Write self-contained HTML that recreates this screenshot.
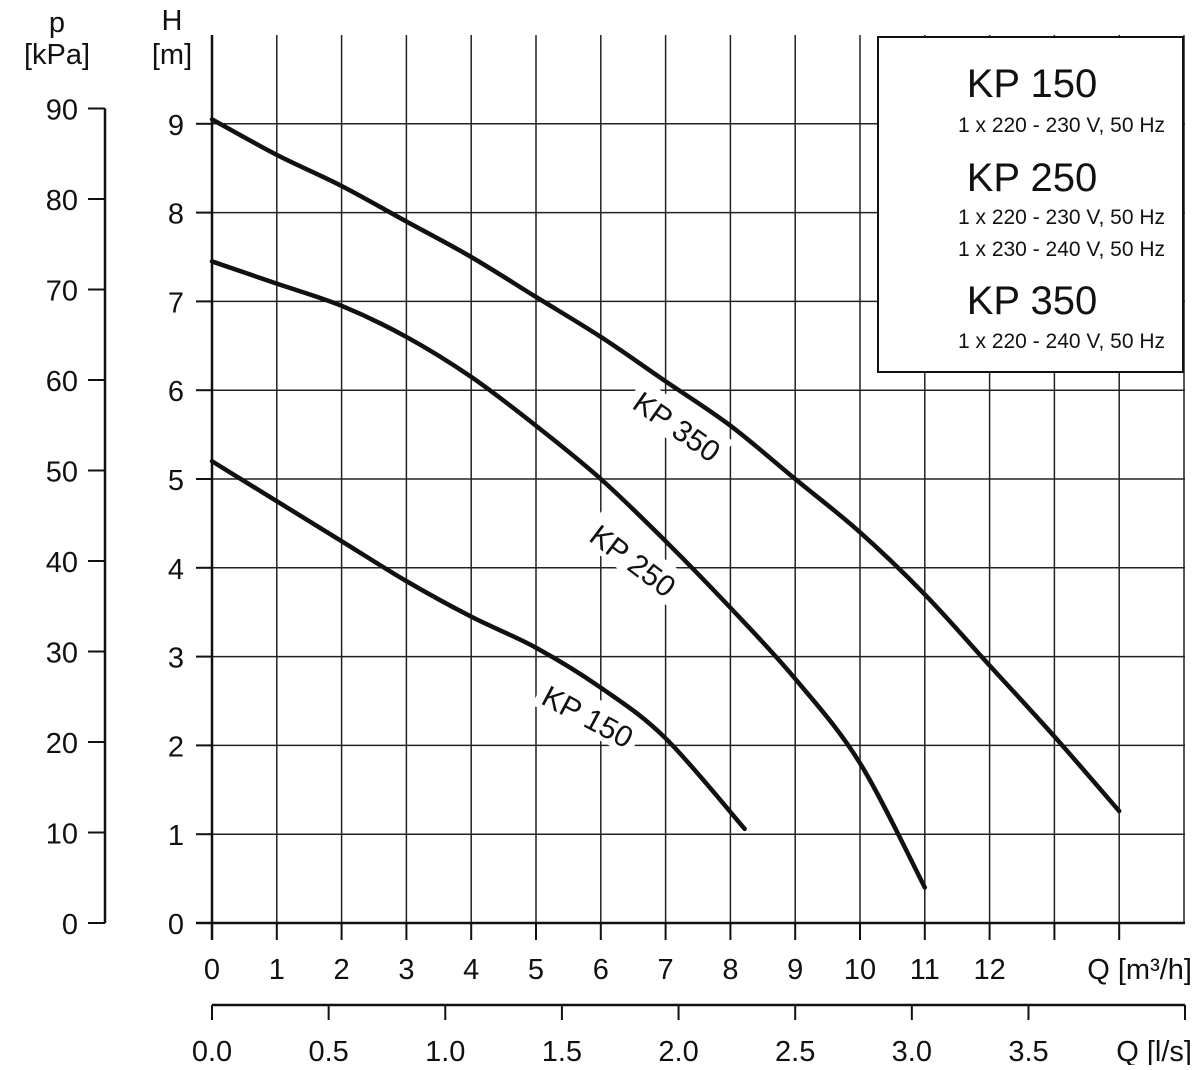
<!DOCTYPE html>
<html><head><meta charset="utf-8"><style>
body{margin:0;background:#fff;}
svg text{font-family:"Liberation Sans",sans-serif;fill:#111;}
</style></head><body>
<svg id="chart" width="1200" height="1065" xmlns="http://www.w3.org/2000/svg">
<g id="grid"></g><g id="axes"></g><g id="curves"></g><g id="labels"></g>
<g>
<rect x="878" y="37" width="305" height="335" fill="#fff" stroke="#111" stroke-width="2"/>
<text x="1032" y="97" font-size="40" text-anchor="middle">KP 150</text>
<text x="1165" y="132" font-size="21" text-anchor="end">1 x 220 - 230 V, 50 Hz</text>
<text x="1032" y="191" font-size="40" text-anchor="middle">KP 250</text>
<text x="1165" y="224" font-size="21" text-anchor="end">1 x 220 - 230 V, 50 Hz</text>
<text x="1165" y="256" font-size="21" text-anchor="end">1 x 230 - 240 V, 50 Hz</text>
<text x="1032" y="314" font-size="40" text-anchor="middle">KP 350</text>
<text x="1165" y="348" font-size="21" text-anchor="end">1 x 220 - 240 V, 50 Hz</text>
</g>
</svg>
<script>
const qTicks=[0,1,2,3,4,5,6,7,8,9,10,11,12];
const hTicks=[0,1,2,3,4,5,6,7,8,9];
const pTicks=[0,10,20,30,40,50,60,70,80,90];
const lsTicks=["0.0","0.5","1.0","1.5","2.0","2.5","3.0","3.5"];
const kp150Q=[0,1,2,3,4,5,6,7,8.22];
const kp150H=[5.2,4.75,4.3,3.85,3.45,3.1,2.65,2.08,1.06];
const kp250Q=[0,1,2,3,4,5,6,7,8,9,10,11];
const kp250H=[7.45,7.2,6.95,6.6,6.15,5.6,5.0,4.3,3.55,2.75,1.8,0.4];
const kp350Q=[0,1,2,3,4,5,6,7,8,9,10,11,12,13,14];
const kp350H=[9.05,8.65,8.3,7.9,7.5,7.05,6.6,6.1,5.6,5.0,4.4,3.7,2.9,2.1,1.26];

const X=q=>212+q*64.8, Y=h=>923-h*88.8, P=p=>923-p*9.05, LS=l=>212+l*3.6*64.8;
const NS="http://www.w3.org/2000/svg";
function mk(parent,tag,attrs,txt){const e=document.createElementNS(NS,tag);for(const k in attrs)e.setAttribute(k,attrs[k]);if(txt!==undefined)e.textContent=txt;document.getElementById(parent).appendChild(e);return e;}
for(let q=1;q<=15;q++){const l=mk('grid','line',{x1:X(q),x2:X(q),y1:35,y2:923,stroke:'#222','stroke-width':1.5});

}
for(let h=1;h<=9;h++){const l=mk('grid','line',{x1:212,x2:1185,y1:Y(h),y2:Y(h),stroke:'#222','stroke-width':1.5});

}
let a=mk('axes','path',{d:`M212,35 V940 M196,923 H1185`,stroke:'#111','stroke-width':2.5,fill:'none'});


qTicks.forEach(q=>{mk('axes','line',{x1:X(q),x2:X(q),y1:923,y2:940,stroke:'#111','stroke-width':2});
const t=mk('axes','text',{x:X(q),y:979,'font-size':29,'text-anchor':'middle'},q);

});
mk('axes','line',{x1:X(13),x2:X(13),y1:923,y2:940,stroke:'#111','stroke-width':2});
mk('axes','line',{x1:X(14),x2:X(14),y1:923,y2:940,stroke:'#111','stroke-width':2});
let qt=mk('axes','text',{x:1192,y:979,'font-size':29,'text-anchor':'end'},'Q [m³/h]');


hTicks.forEach(h=>{mk('axes','line',{x1:196,x2:212,y1:Y(h),y2:Y(h),stroke:'#111','stroke-width':2});
const t=mk('axes','text',{x:184,y:Y(h)+11,'font-size':29,'text-anchor':'end'},h);

});
mk('axes','text',{x:172,y:30,'font-size':29,'text-anchor':'middle'},'H');
mk('axes','text',{x:172,y:64,'font-size':29,'text-anchor':'middle'},'[m]');
mk('axes','line',{x1:105,x2:105,y1:P(90),y2:P(0),stroke:'#111','stroke-width':2.5});
pTicks.forEach(p=>{mk('axes','line',{x1:88,x2:105,y1:P(p),y2:P(p),stroke:'#111','stroke-width':2});
const t=mk('axes','text',{x:78,y:P(p)+11,'font-size':29,'text-anchor':'end'},p);

});
mk('axes','text',{x:57,y:32,'font-size':29,'text-anchor':'middle'},'p');
mk('axes','text',{x:57,y:64,'font-size':29,'text-anchor':'middle'},'[kPa]');
mk('axes','line',{x1:212,x2:1185,y1:1005,y2:1005,stroke:'#111','stroke-width':2.5});
lsTicks.forEach(s=>{const l=parseFloat(s);mk('axes','line',{x1:LS(l),x2:LS(l),y1:1005,y2:1020,stroke:'#111','stroke-width':2});
const t=mk('axes','text',{x:LS(l),y:1061,'font-size':29,'text-anchor':'middle'},s);

});
mk('axes','line',{x1:1185,x2:1185,y1:1005,y2:1020,stroke:'#111','stroke-width':2});
mk('axes','text',{x:1192,y:1061,'font-size':29,'text-anchor':'end'},'Q [l/s]');
function curve(qs,hs,name){
const pts=qs.map((q,i)=>[X(q),Y(hs[i])]);
let d='M'+pts[0].join(',');
for(let i=0;i<pts.length-1;i++){const p0=pts[i-1]||pts[i],p1=pts[i],p2=pts[i+1],p3=pts[i+2]||p2;
d+=` C${p1[0]+(p2[0]-p0[0])/6},${p1[1]+(p2[1]-p0[1])/6} ${p2[0]-(p3[0]-p1[0])/6},${p2[1]-(p3[1]-p1[1])/6} ${p2[0]},${p2[1]}`;}
const e=mk('curves','path',{d:d,stroke:'#111','stroke-width':4.5,fill:'none','stroke-linecap':'round'});

}
curve(kp150Q,kp150H,'kp150-curve');curve(kp250Q,kp250H,'kp250-curve');curve(kp350Q,kp350H,'kp350-curve');
function lab(x,y,ang,txt,name){const g=mk('labels','g',{transform:`translate(${x},${y}) rotate(${ang})`});


const r=document.createElementNS(NS,'rect');r.setAttribute('x',-55);r.setAttribute('y',-22);r.setAttribute('width',110);r.setAttribute('height',36);r.setAttribute('fill','#fff');g.appendChild(r);
const t=document.createElementNS(NS,'text');t.setAttribute('text-anchor','middle');t.setAttribute('font-size',30);t.setAttribute('y',9);t.textContent=txt;g.appendChild(t);}
lab(587,718,28,'KP 150','kp150-label');
lab(632,562,37,'KP 250','kp250-label');
lab(676,428,35,'KP 350','kp350-label');
</script>
</body></html>
